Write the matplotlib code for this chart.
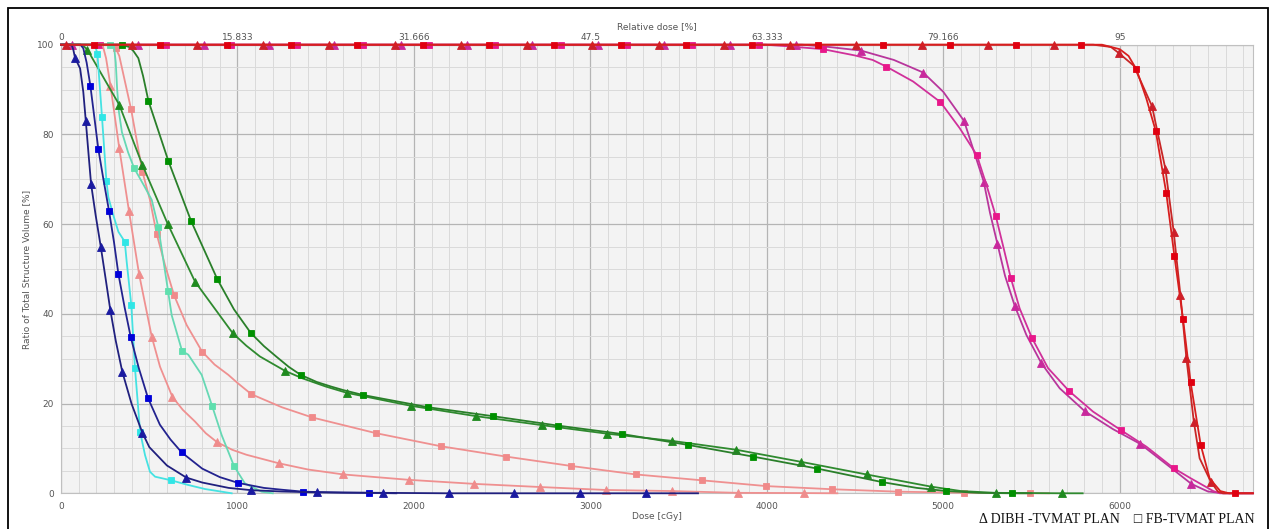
import matplotlib
matplotlib.use("Agg")
import matplotlib.pyplot as plt
from matplotlib.patches import Rectangle
from matplotlib.ticker import MultipleLocator

# dose ticks (cGy) and the matching relative dose labels on the top axis
dose_ticks = [0, 1000, 2000, 3000, 4000, 5000, 6000]
rel_labels = ["0", "15.833", "31.666", "47.5", "63.333", "79.166", "95"]
vol_ticks = [0, 20, 40, 60, 80, 100]

# each curve: marker points (dose, volume %) and extra points that only shape the line
dibh_blue_marks = [(79, 97.1), (140, 83.1), (170, 69.0), (225, 55.0), (279, 40.9), (347, 27.1),
                   (461, 13.5), (710, 3.5), (1076, 0.7), (1449, 0.2), (1822, 0.1), (2196, 0),
                   (2568, 0), (2941, 0), (3314, 0)]
dibh_blue_line = [(0, 100), (55, 100), (62, 99.8), (70, 98.8), (108, 94.7), (126, 89.5), (155, 76),
                  (196, 62), (252, 48), (310, 34), (400, 19.9), (500, 10.3), (600, 6.2),
                  (800, 2.4), (950, 1.2), (1250, 0.4), (3610, 0)]

fb_blue_marks = [(166, 90.9), (211, 76.8), (272, 62.9), (325, 48.9), (395, 34.8), (493, 21.2),
                 (684, 9.1), (1005, 2.3), (1373, 0.36), (1745, 0.1)]
fb_blue_line = [(0, 100), (110, 100), (126, 99.2), (145, 96), (240, 70), (300, 56), (360, 41.5),
                (440, 28), (560, 15.3), (620, 12), (800, 5.5), (900, 3.6), (1150, 1.2), (1250, 0.8),
                (1600, 0.15), (1900, 0)]

cyan_marks = [(206, 98.0), (232, 83.9), (257, 69.7), (361, 56.1), (398, 42.0), (419, 27.9),
              (448, 13.7), (623, 2.9)]
cyan_line = [(0, 100), (185, 100), (195, 99.5), (268, 66), (296, 62), (325, 58.3), (372, 51.6),
             (476, 8.5), (504, 4.8), (533, 3.7), (721, 1.85), (816, 0.95), (910, 0.36), (967, 0)]

aqua_marks = [(278, 100), (414, 72.5), (551, 59.4), (606, 45.2), (686, 31.7), (856, 19.5),
              (980, 6.1)]
aqua_line = [(0, 100), (270, 100), (300, 99.7), (310, 96), (318, 90), (328, 85), (345, 80.5),
             (380, 76), (470, 68.6), (514, 65.4), (627, 39.7), (721, 30.9), (797, 26.4),
             (910, 13), (1042, 2.2), (1137, 0.35), (1200, 0)]

dibh_salmon_marks = [(280, 90.9), (330, 76.9), (385, 62.9), (442, 48.9), (514, 34.9), (631, 21.5),
                     (884, 11.4), (1233, 6.7), (1600, 4.2), (1972, 3.0), (2342, 2.1), (2714, 1.4),
                     (3086, 0.74), (3460, 0.5), (3834, 0.1), (4210, 0.05)]
dibh_salmon_line = [(0, 100), (235, 100), (255, 97), (561, 28.2), (690, 18.6), (759, 16),
                    (820, 13.4), (970, 9.7), (1050, 8.6), (1400, 5.3), (4400, 0)]

fb_salmon_marks = [(310, 99.2), (397, 85.6), (461, 71.7), (542, 57.8), (640, 44.2), (799, 31.6),
                   (1078, 22.1), (1424, 16.9), (1785, 13.4), (2151, 10.5), (2519, 8.2), (2890, 6.1),
                   (3258, 4.2), (3630, 2.9), (3998, 1.6), (4372, 0.9), (4744, 0.36), (5118, 0.13),
                   (5490, 0)]
fb_salmon_line = [(0, 100), (290, 100), (330, 97.5), (504, 65.4), (589, 50.9), (712, 37.5),
                  (870, 28.7), (948, 26.4), (1000, 24.6), (1250, 19.2), (5600, 0)]

dibh_green_marks = [(149, 98.9), (330, 86.6), (461, 73.2), (604, 60.1), (759, 47.2), (973, 35.7),
                    (1269, 27.3), (1619, 22.4), (1983, 19.5), (2351, 17.2), (2723, 15.2),
                    (3092, 13.3), (3460, 11.7), (3828, 9.7), (4196, 7.0), (4565, 4.2), (4929, 1.5),
                    (5297, 0.1), (5675, 0)]
dibh_green_line = [(0, 100), (110, 100), (125, 99.8), (1050, 32.9), (1127, 30.5), (1370, 25.6),
                   (1500, 23.8), (5100, 0.5), (5790, 0)]

fb_green_marks = [(344, 100), (495, 87.5), (608, 74.1), (737, 60.7), (886, 47.7), (1076, 35.7),
                  (1358, 26.4), (1713, 21.9), (2078, 19.2), (2446, 17.2), (2814, 15.1),
                  (3182, 13.2), (3551, 10.8), (3919, 8.2), (4287, 5.5), (4653, 2.5), (5018, 0.5),
                  (5392, 0)]
fb_green_line = [(0, 100), (385, 99.5), (410, 98.6), (438, 97), (465, 93), (980, 41),
                 (1150, 32.8), (1222, 30.4), (1290, 28.2), (1450, 24.8), (1530, 23.8),
                 (1600, 23.0), (4850, 1.2), (5200, 0.1), (5500, 0)]

dibh_magenta_marks = [(60, 100), (434, 100), (808, 100), (1178, 100), (1549, 100), (1926, 100),
                      (2299, 100), (2670, 100), (3044, 100), (3418, 100), (3790, 100), (4168, 100),
                      (4533, 98.7), (4886, 93.8), (5118, 83.0), (5229, 69.5), (5307, 55.6),
                      (5405, 41.8), (5556, 29.0), (5802, 18.3), (6117, 11.0), (6406, 2.1)]
dibh_magenta_line = [(0, 100), (4200, 100), (4350, 99.5), (4720, 96.6), (5000, 89.5), (5265, 62.5),
                     (5350, 48.5), (5471, 35.3), (5660, 23.4), (5962, 14.3), (6264, 6.5),
                     (6500, 0.4), (6590, 0), (6755, 0)]

fb_magenta_marks = [(221, 100), (593, 100), (965, 100), (1339, 100), (1713, 100), (2085, 100),
                    (2459, 100), (2831, 100), (3205, 100), (3577, 100), (3953, 100), (4319, 99.0),
                    (4678, 95.1), (4984, 87.2), (5190, 75.4), (5297, 61.9), (5382, 48.1),
                    (5503, 34.6), (5713, 22.8), (6006, 14.1), (6306, 5.6)]
fb_magenta_line = [(0, 100), (3990, 100), (4100, 99.7), (4500, 97.6), (4600, 96.6), (4829, 91.8),
                   (5093, 81.4), (5245, 68.7), (5340, 55), (5433, 41.2), (5594, 27.9), (5849, 18.2),
                   (6151, 10.4), (6400, 3.4), (6472, 1.8), (6530, 0.5), (6567, 0), (6755, 0)]

dibh_red_marks = [(27, 100), (404, 100), (772, 100), (1146, 100), (1518, 100), (1892, 100),
                  (2266, 100), (2638, 100), (3012, 100), (3388, 100), (3758, 100), (4134, 100),
                  (4508, 100), (4882, 100), (5254, 100), (5628, 100), (5996, 98.1), (6183, 86.3),
                  (6259, 72.3), (6306, 58.3), (6344, 44.2), (6378, 30.1), (6420, 16.0),
                  (6516, 2.6)]
dibh_red_line = [(0, 100), (5850, 100), (5950, 99.5), (6080, 95.3), (6453, 7.8), (6557, 0.36),
                 (6584, 0), (6755, 0)]

fb_red_marks = [(185, 100), (559, 100), (939, 100), (1303, 100), (1675, 100), (2049, 100),
                (2425, 100), (2795, 100), (3171, 100), (3543, 100), (3917, 100), (4291, 100),
                (4659, 100), (5037, 100), (5411, 100), (5783, 100), (6095, 94.5), (6204, 80.8),
                (6264, 66.9), (6310, 52.9), (6359, 38.8), (6402, 24.7), (6459, 10.8), (6651, 0)]
fb_red_line = [(0, 100), (5900, 100), (6000, 99), (6050, 97.5), (6151, 88.0), (6510, 3.3),
               (6570, 0.5), (6620, 0), (6755, 0)]

# (marks, line, line colour, marker colour, marker)
curves = [
    (dibh_magenta_marks, dibh_magenta_line, "#b8369c", "#c8289c", "^"),
    (fb_magenta_marks, fb_magenta_line, "#d0309a", "#e8178a", "s"),
    (dibh_salmon_marks, dibh_salmon_line, "#ef9090", "#ef8c8c", "^"),
    (fb_salmon_marks, fb_salmon_line, "#ef9090", "#f08a8a", "s"),
    (aqua_marks, aqua_line, "#66d8b4", "#5fdfae", "s"),
    (dibh_green_marks, dibh_green_line, "#2f8a2f", "#1f8a1f", "^"),
    (fb_green_marks, fb_green_line, "#2a7f2a", "#009000", "s"),
    (cyan_marks, cyan_line, "#45e2e2", "#30e6e6", "s"),
    (fb_blue_marks, fb_blue_line, "#23238f", "#0000d8", "s"),
    (dibh_blue_marks, dibh_blue_line, "#20207e", "#1a1aa0", "^"),
    (dibh_red_marks, dibh_red_line, "#c82626", "#cc1f2a", "^"),
    (fb_red_marks, fb_red_line, "#d81e1e", "#e00010", "s"),
]

fig = plt.figure(figsize=(12.72, 5.29), dpi=100)
ax = fig.add_axes([0.048, 0.0675, 0.937, 0.848])
ax.set_facecolor("#f3f3f3")

for i, (marks, extra, lc, mc, mk) in enumerate(curves):
    pts = sorted(marks + extra, key=lambda p: (p[0], -p[1]))
    d = [p[0] for p in pts]
    v = [p[1] for p in pts]
    ax.plot(d, v, color=lc, lw=1.3, clip_on=False, zorder=3 + i * 0.1)
    md = [p[0] for p in marks]
    mv = [p[1] for p in marks]
    ax.plot(md, mv, ls="none", marker=mk, ms=5 if mk == "s" else 5.4, mfc=mc, mec=mc,
            mew=0.6, clip_on=False, zorder=3.05 + i * 0.1)

ax.set_xlim(0, 6755)
ax.set_ylim(0, 100)
ax.set_xticks(dose_ticks)
ax.set_yticks(vol_ticks)
ax.xaxis.set_minor_locator(MultipleLocator(100))
ax.yaxis.set_minor_locator(MultipleLocator(5))
ax.grid(which="major", color="#b4b4b4", lw=0.9)
ax.grid(which="minor", color="#dadada", lw=0.7)
ax.set_axisbelow(True)
ax.tick_params(which="both", length=0, labelsize=6.5, labelcolor="#555555")
ax.tick_params(axis="x", pad=6)
ax.tick_params(axis="y", pad=5)
for s in ax.spines.values():
    s.set_color("#c0c0c0")
    s.set_linewidth(0.8)
ax.set_xlabel("Dose [cGy]", fontsize=6.5, color="#555555", labelpad=1)
ax.set_ylabel("Ratio of Total Structure Volume [%]", fontsize=6.5, color="#555555", labelpad=4)

top = ax.twiny()
top.set_xlim(ax.get_xlim())
top.set_xticks(dose_ticks)
top.set_xticklabels(rel_labels)
top.tick_params(length=0, labelsize=6.5, labelcolor="#555555", pad=2)
for s in top.spines.values():
    s.set_visible(False)
top.set_xlabel("Relative dose [%]", fontsize=6.5, color="#555555", labelpad=3)

fig.text(0.9865, 0.006, "\u0394 DIBH -TVMAT PLAN    \u25a1 FB-TVMAT PLAN", ha="right", va="bottom",
         fontsize=10, family=["Liberation Serif", "DejaVu Serif"], color="#111111")

fig.add_artist(Rectangle((8 / 1272, -0.02), 1260 / 1272, 1.02 - 8 / 529, transform=fig.transFigure,
                         fill=False, ec="black", lw=1.3))

fig.savefig("out.png", dpi=100)
